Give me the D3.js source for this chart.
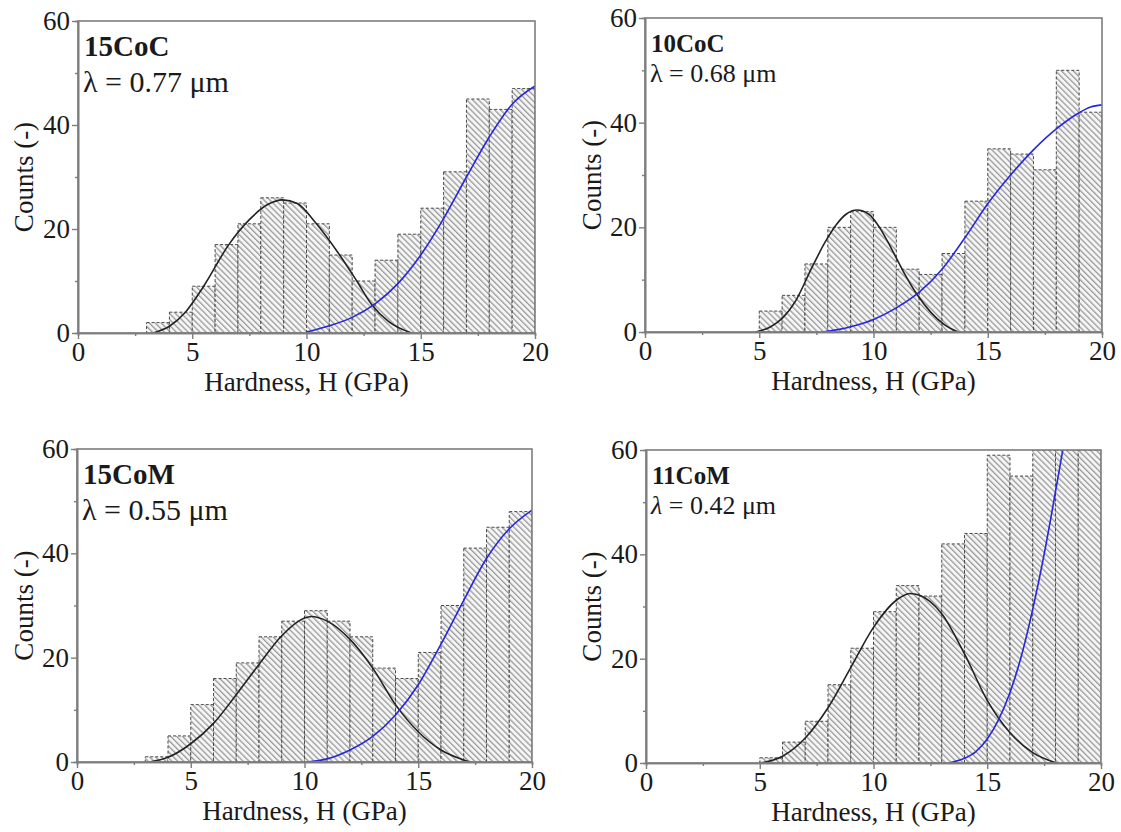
<!DOCTYPE html>
<html>
<head>
<meta charset="utf-8">
<script src="https://cdn.jsdelivr.net/npm/d3@7/dist/d3.min.js"></script>
<style>
  body { margin: 0; background: #fff; }
  svg text { font-family: "Liberation Serif", "Times New Roman", serif; fill: #1a1a1a; }
</style>
</head>
<body>
<svg id="chart" width="1121" height="832"></svg>
<script>
// ---- data (bins are 1 GPa wide, value = left edge) ----
const xTicks = [0, 5, 10, 15, 20];
const xMinorTicks = [2.5, 7.5, 12.5, 17.5];
const yTicks = [0, 20, 40, 60];
const yMinorTicks = [10, 30, 50];

const bins15CoC = [3, 4, 5, 6, 7, 8, 9, 10, 11, 12, 13, 14, 15, 16, 17, 18, 19];
const counts15CoC = [2, 4, 9, 17, 21, 26, 25, 21, 15, 10, 14, 19, 24, 31, 45, 43, 47];
const fitSoft15CoC = [[3.3, 0], [4, 1.3], [4.7, 4], [5.5, 9], [6.6, 17], [7.5, 21.8], [8.3, 24.7], [8.95, 25.6],
  [9.6, 24.9], [10.4, 21.2], [11.45, 15], [12.2, 10], [12.85, 5.5], [13.6, 2.2], [14.6, 0]];
const fitHard15CoC = [[10, 0.2], [11, 1.4], [12, 3], [13, 5.6], [14, 9.5], [15, 15], [16, 22], [17, 30],
  [18, 37.7], [19, 44], [20, 47.5]];

const bins10CoC = [5, 6, 7, 8, 9, 10, 11, 12, 13, 14, 15, 16, 17, 18, 19];
const counts10CoC = [4, 7, 13, 20, 23, 20, 12, 11, 15, 25, 35, 34, 31, 50, 42];
const fitSoft10CoC = [[4.84, 0], [5.5, 1], [6, 2.6], [6.6, 6], [7.27, 12], [7.9, 17.3], [8.37, 20.5],
  [8.8, 22.5], [9.28, 23.3], [9.8, 22.5], [10.26, 20], [10.8, 15.8], [11.3, 11.6], [11.9, 7.2],
  [12.5, 3.8], [13.1, 1.4], [13.7, 0]];
const fitHard10CoC = [[7.75, 0], [8.5, 0.5], [9, 1], [10, 2.4], [11, 4.6], [12, 7.6], [13, 12], [14, 18],
  [15, 24.5], [16, 30], [17, 34.8], [18, 38.8], [19, 41.9], [19.5, 43], [20, 43.4]];

const bins15CoM = [3, 4, 5, 6, 7, 8, 9, 10, 11, 12, 13, 14, 15, 16, 17, 18, 19];
const counts15CoM = [1, 5, 11, 16, 19, 24, 27, 29, 27, 24, 18, 16, 21, 30, 41, 45, 48];
const fitSoft15CoM = [[3.2, 0], [4, 0.9], [5, 3.5], [6, 7.4], [7, 12.9], [8, 18.7], [9, 24.2], [10, 27.6],
  [10.3, 27.9], [11, 27], [12, 23.5], [13, 18], [14, 11], [15, 5.8], [16, 2.3], [17, 0.4], [17.3, 0]];
const fitHard15CoM = [[10.1, 0], [11, 0.6], [12, 2.3], [13, 4.9], [14, 9], [15, 14.8], [16, 22.6], [17, 31],
  [18, 39], [19, 44.7], [20, 48.3]];

const bins11CoM = [5, 6, 7, 8, 9, 10, 11, 12, 13, 14, 15, 16, 17, 18, 19];
const counts11CoM = [1, 4, 8, 15, 22, 29, 34, 32, 42, 44, 59, 55, 60, 60, 60];
const fitSoft11CoM = [[5.07, 0], [6, 1.3], [7, 4.8], [8, 10.6], [9, 18.3], [10, 26], [11, 31.2], [11.6, 32.5],
  [12, 32.2], [13, 28.6], [14, 20.9], [15, 12], [16, 5.8], [17, 2], [18.05, 0]];
const fitHard11CoM = [[13.32, 0], [14, 0.9], [14.5, 2.2], [15, 4.6], [15.5, 8.3], [16, 13.5], [16.5, 20.5],
  [17, 29.5], [17.5, 40], [18, 52], [18.4, 62]];

// ---- panel layout ----
const panels = [
  { id: 'p1', box: [78, 21, 535, 333], name: '15CoC', lambda: '0.77', big: true, italic: false,
    bins: bins15CoC, counts: counts15CoC, soft: fitSoft15CoC, hard: fitHard15CoC, yTitleX: 24 },
  { id: 'p2', box: [645, 18, 1102, 332], name: '10CoC', lambda: '0.68', big: false, italic: false,
    bins: bins10CoC, counts: counts10CoC, soft: fitSoft10CoC, hard: fitHard10CoC, yTitleX: 592 },
  { id: 'p3', box: [77, 449, 532, 762], name: '15CoM', lambda: '0.55', big: true, italic: false,
    bins: bins15CoM, counts: counts15CoM, soft: fitSoft15CoM, hard: fitHard15CoM, yTitleX: 24 },
  { id: 'p4', box: [646, 450, 1101, 763], name: '11CoM', lambda: '0.42', big: false, italic: true,
    bins: bins11CoM, counts: counts11CoM, soft: fitSoft11CoM, hard: fitHard11CoM, yTitleX: 592 }
];

const svg = d3.select('#chart');
const defs = svg.append('defs');

// diagonal hatch, lines running top-left to bottom-right
const hatch = defs.append('pattern')
  .attr('id', 'hatch')
  .attr('patternUnits', 'userSpaceOnUse')
  .attr('width', 4.2)
  .attr('height', 4.2)
  .attr('patternTransform', 'rotate(45)');
hatch.append('rect').attr('width', 4.2).attr('height', 4.2).attr('fill', '#f5f5f5');
hatch.append('line')
  .attr('x1', 0).attr('y1', 1).attr('x2', 4.2).attr('y2', 1)
  .attr('stroke', '#808080').attr('stroke-width', 1);

const frameColor = '#7d7d7d';

function drawPanel(p) {
  const [x0, y0, x1, y1] = p.box;
  const x = d3.scaleLinear().domain([0, 20]).range([x0, x1]);
  const y = d3.scaleLinear().domain([0, 60]).range([y1, y0]);

  defs.append('clipPath').attr('id', 'clip-' + p.id)
    .append('rect').attr('x', x0).attr('y', y0).attr('width', x1 - x0).attr('height', y1 - y0);

  const g = svg.append('g');
  const plot = g.append('g').attr('clip-path', `url(#clip-${p.id})`);

  // histogram bars
  plot.selectAll('rect.bar')
    .data(p.bins.map((b, i) => ({ b, c: p.counts[i] })))
    .join('rect')
    .attr('class', 'bar')
    .attr('x', d => x(d.b))
    .attr('y', d => y(d.c))
    .attr('width', d => x(d.b + 1) - x(d.b))
    .attr('height', d => y(0) - y(d.c))
    .attr('fill', 'url(#hatch)')
    .attr('stroke', '#4a4a4a')
    .attr('stroke-width', 1)
    .attr('stroke-dasharray', '3,2');

  // fitted distributions
  const line = d3.line().x(d => x(d[0])).y(d => y(d[1])).curve(d3.curveMonotoneX);
  plot.append('path').attr('d', line(p.soft))
    .attr('fill', 'none').attr('stroke', '#222').attr('stroke-width', 1.6);
  plot.append('path').attr('d', line(p.hard))
    .attr('fill', 'none').attr('stroke', '#2626dc').attr('stroke-width', 1.6);

  // frame (top + right)
  g.append('rect')
    .attr('x', x0).attr('y', y0).attr('width', x1 - x0).attr('height', y1 - y0)
    .attr('fill', 'none').attr('stroke', frameColor).attr('stroke-width', 1.6);

  // axes
  const styleAxis = sel => {
    sel.select('.domain').attr('stroke', frameColor).attr('stroke-width', 1.6);
    sel.selectAll('.tick line').attr('stroke', frameColor).attr('stroke-width', 1.4);
    sel.selectAll('.tick text')
      .attr('font-family', '"Liberation Serif", "Times New Roman", serif')
      .attr('font-size', 27).attr('fill', '#1a1a1a');
  };

  g.append('g').attr('transform', `translate(0,${y1})`)
    .call(d3.axisBottom(x).tickValues(xTicks).tickSizeInner(6).tickSizeOuter(0).tickPadding(3))
    .call(styleAxis);
  g.append('g').attr('transform', `translate(0,${y1})`)
    .call(d3.axisBottom(x).tickValues(xMinorTicks).tickSize(3).tickFormat(''))
    .call(styleAxis);
  g.append('g').attr('transform', `translate(${x0},0)`)
    .call(d3.axisLeft(y).tickValues(yTicks).tickSizeInner(6).tickSizeOuter(0).tickPadding(2))
    .call(styleAxis);
  g.append('g').attr('transform', `translate(${x0},0)`)
    .call(d3.axisLeft(y).tickValues(yMinorTicks).tickSize(3).tickFormat(''))
    .call(styleAxis);

  // axis titles
  g.append('text')
    .attr('x', (x0 + x1) / 2).attr('y', y1 + 58)
    .attr('text-anchor', 'middle').attr('font-size', 27)
    .text('Hardness, H (GPa)');
  g.append('text')
    .attr('transform', `translate(${p.yTitleX},${(y0 + y1) / 2}) rotate(-90)`)
    .attr('text-anchor', 'middle').attr('dy', '0.35em').attr('font-size', 27)
    .text('Counts (-)');

  // sample labels
  g.append('text')
    .attr('x', x0 + 6).attr('y', y0 + (p.big ? 35 : 34))
    .attr('font-size', p.big ? 29 : 25).attr('font-weight', 'bold')
    .text(p.name);
  const lam = g.append('text')
    .attr('x', x0 + 5).attr('y', y0 + (p.big ? 71 : 64))
    .attr('font-size', p.big ? 30 : 26);
  lam.append('tspan').attr('font-style', p.italic ? 'italic' : 'normal').text('λ');
  lam.append('tspan').text(` = ${p.lambda} μm`);
}

panels.forEach(drawPanel);
</script>
</body>
</html>
